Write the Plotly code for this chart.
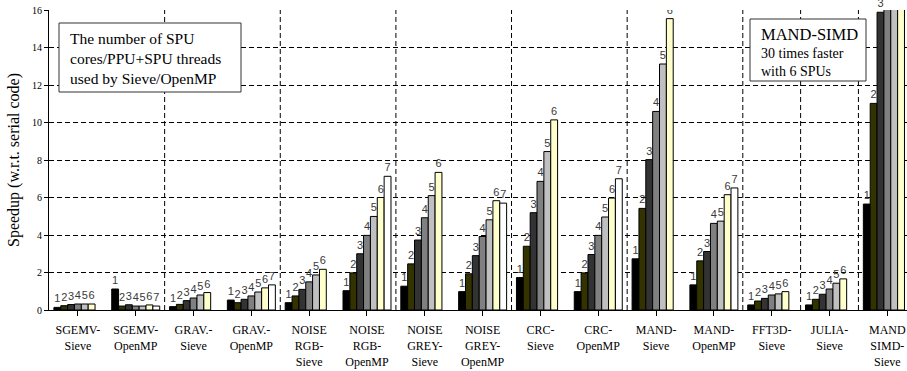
import plotly.graph_objects as go

categories = ["SGEMV-<br>Sieve", "SGEMV-<br>OpenMP", "GRAV.-<br>Sieve", "GRAV.-<br>OpenMP",
              "NOISE<br>RGB-<br>Sieve", "NOISE<br>RGB-<br>OpenMP", "NOISE<br>GREY-<br>Sieve",
              "NOISE<br>GREY-<br>OpenMP", "CRC-<br>Sieve", "CRC-<br>OpenMP", "MAND-<br>Sieve",
              "MAND-<br>OpenMP", "FFT3D-<br>Sieve", "JULIA-<br>Sieve", "MAND<br>SIMD-<br>Sieve"]

s1 = [0.14, 1.12, 0.18, 0.53, 0.39, 1.03, 1.27, 0.98, 1.73, 0.98, 2.73, 1.34, 0.27, 0.27, 5.65]
s2 = [0.23, 0.21, 0.30, 0.39, 0.75, 1.98, 2.46, 1.93, 3.40, 1.98, 5.42, 2.62, 0.48, 0.57, 11.02]
s3 = [0.29, 0.28, 0.50, 0.57, 1.10, 3.00, 3.73, 2.90, 5.19, 2.96, 8.02, 3.12, 0.62, 0.84, 15.88]
s4 = [0.32, 0.21, 0.64, 0.75, 1.50, 3.98, 4.92, 3.92, 6.86, 3.98, 10.59, 4.62, 0.80, 1.12, 22.0]
s5 = [0.32, 0.21, 0.80, 0.96, 1.87, 4.99, 6.10, 4.81, 8.45, 4.96, 13.12, 4.74, 0.86, 1.43, 26.0]
s6 = [0.32, 0.27, 0.93, 1.18, 2.17, 6.00, 7.34, 5.83, 10.14, 5.97, 15.54, 6.15, 0.98, 1.66, 30.0]
s7 = [None, 0.21, None, 1.34, None, 7.13, None, 5.70, None, 7.00, None, 6.51, None, None, None]

series = [s1, s2, s3, s4, s5, s6, s7]
series_names = ["1", "2", "3", "4", "5", "6", "7"]
colors = ["#000000", "#333300", "#333333", "#808080", "#c0c0c0", "#ffffcc", "#ffffff"]
y_max = 16
separators_after = [1, 3, 5, 7, 9, 11, 12, 13]

W, H = 907, 371
L, R, T, B = 49, 0, 10, 61
pw, ph = W - L - R, H - T - B


def px_x(x):
    return (x - L) / pw


def px_y(y):
    return (H - B - y) / ph


fig = go.Figure()
for name, vals, col in zip(series_names, series, colors):
    texts = [name if (v is not None and v <= y_max) else "" for v in vals]
    fits = all(v is None or v <= y_max for v in vals)
    fig.add_trace(go.Bar(
        x=list(range(len(categories))), y=vals, name=name,
        marker=dict(color=col, line=dict(color="#000000", width=1)),
        text=texts, textposition="outside",
        textfont=dict(family="Arial, Liberation Sans", size=11, color="#3a3a3a"),
        constraintext="none", cliponaxis=not fits,
        showlegend=False, hoverinfo="skip",
    ))

shapes = []
for i in separators_after:
    shapes.append(dict(type="line", xref="x", yref="paper", x0=i + 0.5, x1=i + 0.5, y0=0, y1=1,
                       line=dict(color="#000000", width=1, dash="5px,3px"), layer="below"))
# note boxes
shapes.append(dict(type="rect", xref="paper", yref="paper",
                   x0=px_x(59), x1=px_x(241), y0=px_y(92), y1=px_y(23),
                   line=dict(color="#333333", width=1), fillcolor="white", layer="above"))
shapes.append(dict(type="rect", xref="paper", yref="paper",
                   x0=px_x(750), x1=px_x(866), y0=px_y(81), y1=px_y(19),
                   line=dict(color="#333333", width=1), fillcolor="white", layer="above"))

serif = "Times New Roman, Liberation Serif, serif"
fig.update_layout(
    width=W, height=H,
    margin=dict(l=L, r=R, t=T, b=B),
    paper_bgcolor="white", plot_bgcolor="white",
    barmode="group", bargap=0.17, bargroupgap=0,
    shapes=shapes,
    xaxis=dict(
        range=[-0.5, 14.34],
        tickmode="array", tickvals=list(range(len(categories))), ticktext=categories,
        showline=True, linecolor="#000000", linewidth=1,
        showgrid=False, zeroline=False,
        ticks="outside", ticklen=5, tickcolor="#000000",
        tickfont=dict(family=serif, size=12, color="#000000"),
        ticklabelstandoff=4,
    ),
    yaxis=dict(
        range=[0, y_max], dtick=2,
        showline=True, linecolor="#000000", linewidth=1,
        showgrid=True, gridcolor="#000000", gridwidth=1, griddash="5px,3px",
        zeroline=False,
        ticks="outside", ticklen=4, tickcolor="#000000",
        tickfont=dict(family=serif, size=10, color="#000000"),
        title=dict(text="Speedup (w.r.t. serial code)", font=dict(family=serif, size=16, color="#000000"),
                   standoff=8),
    ),
    annotations=[
        dict(xref="paper", yref="paper", x=px_x(69), y=px_y(29),
             xanchor="left", yanchor="top", align="left", showarrow=False,
             text="The number of SPU<br>cores/PPU+SPU threads<br>used by Sieve/OpenMP",
             font=dict(family=serif, size=15.5, color="#000000"), borderpad=0),
        dict(xref="paper", yref="paper", x=px_x(760), y=px_y(24),
             xanchor="left", yanchor="top", align="left", showarrow=False,
             text="<span style='font-size:16.5px'>MAND-SIMD</span><br>30 times faster<br>with 6 SPUs",
             font=dict(family=serif, size=14, color="#000000"), borderpad=0),
    ],
)

fig.write_html("out.html", config={"displayModeBar": False},
               post_script="document.body.style.margin='0';document.body.style.overflow='hidden';")
